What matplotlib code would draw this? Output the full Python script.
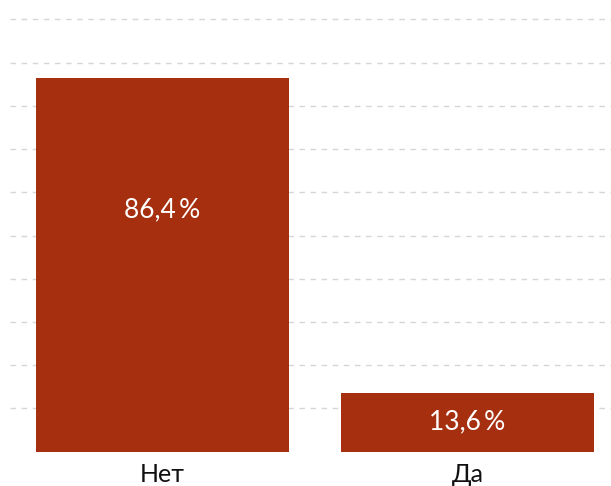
import matplotlib.pyplot as plt

categories = ['Нет', 'Да']
values = [86.4, 13.6]
value_labels = ['86,4\u2009%', '13,6\u2009%']

plt.rcParams['font.family'] = ['Lato', 'DejaVu Sans']

fig = plt.figure(figsize=(6.11, 4.86), dpi=100)
ax = fig.add_axes([10 / 611, 34.3 / 486, 601 / 611, 451.7 / 486])

x = range(len(categories))
ax.bar(x, values, width=0.83, color='#a62f10', zorder=2)

# labels sit near the top of tall bars, centred in short ones
for i, (v, lab) in enumerate(zip(values, value_labels)):
    y = max(v / 2, v - 30.5)
    ax.text(i, y, lab, ha='center', va='center', color='white',
            fontsize=19)

ax.set_xlim(-0.5, 1.47)
ax.set_ylim(0, 104.5)
ax.set_yticks(range(10, 101, 10))
ax.yaxis.grid(True, linestyle=(0, (4, 4)), color='#d6d6d6', linewidth=1, zorder=0)
ax.set_xticks(list(x))
ax.set_xticklabels(categories, fontsize=18)
ax.tick_params(axis='x', length=0, pad=8, colors='#111111')
ax.tick_params(axis='y', length=0, labelleft=False)
for s in ax.spines.values():
    s.set_visible(False)

fig.savefig('out.png', dpi=100)
